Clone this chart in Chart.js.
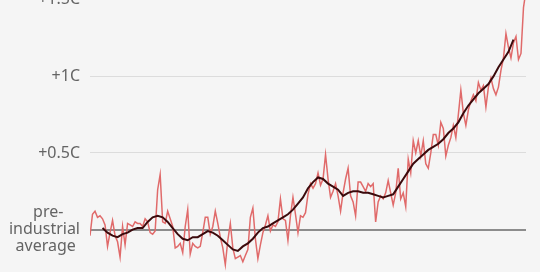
<!DOCTYPE html>
<html>
<head>
<meta charset="utf-8">
<script src="https://cdn.jsdelivr.net/npm/chart.js@4/dist/chart.umd.min.js"></script>
<style>
    html, body { margin: 0; padding: 0; background: #f5f5f5; overflow: hidden; width: 540px; height: 272px; }
    #chart { position: absolute; left: 0; top: -26px; }
</style>
</head>
<body>
<canvas id="chart" width="540" height="312"></canvas>
<script>
// annual global temperature, difference from pre-industrial average (C)
const firstYear = 1850;
const anomalies = [
    -0.04, 0.10, 0.12, 0.08, 0.09, 0.07, 0.03, -0.11, -0.02, 0.06,   // 1850s
    -0.04, -0.08, -0.18, 0.02, -0.10, 0.04, 0.03, 0.02, 0.05, 0.04,  // 1860s
    0.04, 0.02, 0.07, 0.05, -0.02, -0.03, -0.01, 0.26, 0.36, 0.05,   // 1870s
    0.04, 0.12, 0.07, 0.02, -0.12, -0.11, -0.09, -0.15, 0.02, 0.13,  // 1880s
    -0.16, -0.09, -0.11, -0.12, -0.11, -0.02, 0.08, 0.08, -0.03, 0.02, // 1890s
    0.12, 0.04, -0.05, -0.12, -0.23, -0.07, 0.04, -0.12, -0.19, -0.18, // 1900s
    -0.17, -0.21, -0.17, -0.13, 0.08, 0.14, -0.06, -0.19, -0.10, -0.02, // 1910s
    0.03, 0.09, -0.01, 0.03, 0.02, 0.05, 0.20, 0.07, 0.06, -0.07,    // 1920s
    0.09, 0.21, 0.10, -0.02, 0.09, 0.08, 0.11, 0.23, 0.30, 0.27,     // 1930s
    0.30, 0.37, 0.29, 0.33, 0.49, 0.33, 0.21, 0.25, 0.30, 0.22,      // 1940s
    0.12, 0.24, 0.33, 0.40, 0.22, 0.18, 0.09, 0.31, 0.31, 0.28,      // 1950s
    0.25, 0.30, 0.28, 0.30, 0.05, 0.18, 0.22, 0.20, 0.24, 0.32,      // 1960s
    0.24, 0.16, 0.24, 0.40, 0.20, 0.24, 0.15, 0.46, 0.37, 0.58,      // 1970s
    0.50, 0.58, 0.48, 0.58, 0.43, 0.40, 0.50, 0.62, 0.62, 0.55,      // 1980s
    0.70, 0.66, 0.48, 0.55, 0.60, 0.68, 0.60, 0.75, 0.91, 0.76,      // 1990s
    0.68, 0.78, 0.84, 0.88, 0.84, 0.96, 0.91, 0.94, 0.80, 0.93,      // 2000s
    0.99, 0.92, 0.88, 0.93, 1.04, 1.12, 1.28, 1.19, 1.12, 1.22,      // 2010s
    1.26, 1.11, 1.15, 1.45, 1.56                                     // 2020s
];

// smoothed (running average) line
const smoothYears = [
    1855, 1857, 1859, 1861, 1863, 1865, 1867, 1869, 1871, 1873, 1875, 1877, 1879,
    1881, 1883, 1885, 1887, 1889, 1891, 1893, 1895, 1897, 1899, 1901, 1903, 1905,
    1907, 1909, 1911, 1913, 1915, 1917, 1919, 1921, 1923, 1925, 1927, 1929, 1931,
    1933, 1935, 1937, 1939, 1941, 1943, 1945, 1947, 1949, 1951, 1953, 1955, 1957,
    1959, 1961, 1963, 1965, 1967, 1969, 1971, 1973, 1975, 1977, 1979, 1981, 1983,
    1985, 1987, 1989, 1991, 1993, 1995, 1997, 1999, 2001, 2003, 2005, 2007, 2009,
    2011, 2013, 2015, 2017, 2019
];
const smoothValues = [
    0.01, -0.02, -0.04, -0.05, -0.03, -0.02, 0.00, 0.01, 0.01, 0.05, 0.08, 0.09, 0.08,
    0.05, 0.01, -0.03, -0.06, -0.07, -0.05, -0.05, -0.03, -0.01, -0.02, -0.04, -0.07, -0.10,
    -0.13, -0.14, -0.11, -0.09, -0.06, -0.02, 0.01, 0.02, 0.04, 0.06, 0.08, 0.10, 0.13,
    0.17, 0.21, 0.27, 0.31, 0.34, 0.33, 0.30, 0.28, 0.26, 0.22, 0.24, 0.25, 0.25,
    0.24, 0.24, 0.23, 0.22, 0.21, 0.22, 0.23, 0.28, 0.33, 0.38, 0.43, 0.46, 0.49,
    0.52, 0.54, 0.56, 0.59, 0.63, 0.66, 0.70, 0.76, 0.81, 0.85, 0.89, 0.92, 0.95,
    1.00, 1.06, 1.11, 1.16, 1.24
];

const tickValues = [ 0, 0.5, 1, 1.5 ];
const tickLabels = [
    [ 'pre-\u00a0\u00a0\u00a0\u00a0', 'industrial', 'average\u00a0' ],
    '+0.5C',
    '+1C',
    '+1.5C'
];

const annualPoints = anomalies.map( ( v, i ) => ( { x : firstYear + i, y : v } ) );
const smoothPoints = smoothYears.map( ( yr, i ) => ( { x : yr, y : smoothValues[ i ] } ) );

// min / max ticks only exist to keep the label padding small
const isEdgeTick = ctx => !ctx.tick || tickValues.indexOf( ctx.tick.value ) < 0;

new Chart( document.getElementById( 'chart' ), {
    type : 'line',
    data : {
        datasets : [
            {
                data        : smoothPoints,
                borderColor : '#3b0a0c',
                borderWidth : 2,
                pointRadius : 0,
                order       : 0,
            },
            {
                data        : annualPoints,
                borderColor : '#e06a6a',
                borderWidth : 1.5,
                pointRadius : 0,
                order       : 1,
            },
        ]
    },
    options : {
        responsive : false,
        animation  : false,
        layout     : { padding : { top : 0, bottom : 0, left : 0, right : 14 } },
        plugins    : {
            legend  : { display : false },
            tooltip : { enabled : false },
        },
        scales : {
            x : {
                type    : 'linear',
                display : false,
                min     : firstYear,
                max     : firstYear + anomalies.length - 1,
            },
            y : {
                min : -0.3,
                max : 1.6,
                afterBuildTicks : scale => {
                    scale.ticks = [ scale.min ].concat( tickValues, [ scale.max ] ).map( v => ( { value : v } ) );
                },
                afterFit : scale => { scale.width = 90; },
                border : { display : false },
                grid : {
                    drawTicks : false,
                    color : ctx => {
                        if ( isEdgeTick( ctx ) ) return 'rgba(0,0,0,0)';
                        if ( ctx.tick.value === 0 ) return '#8c8c8c';
                        return '#dcdcdc';
                    },
                    lineWidth : ctx => ( ctx.tick && ctx.tick.value === 0 ) ? 2 : 1,
                },
                ticks : {
                    autoSkip : false,
                    padding  : 10,
                    color    : '#646464',
                    font     : ctx => isEdgeTick( ctx )
                        ? { family : 'Noto Sans', size : 1, lineHeight : 1 }
                        : { family : 'Noto Sans', size : 16, lineHeight : 1.08 },
                    callback : v => {
                        const i = tickValues.indexOf( v );
                        return i < 0 ? '' : tickLabels[ i ];
                    },
                },
            },
        },
    },
});
</script>
</body>
</html>
